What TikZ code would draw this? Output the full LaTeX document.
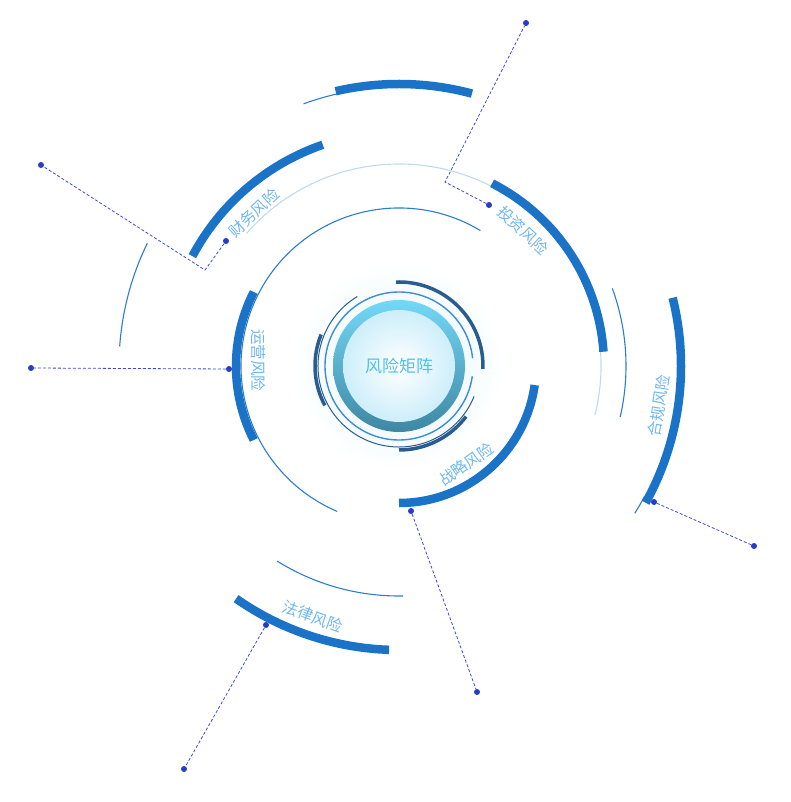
\documentclass[tikz,border=0pt]{standalone}
\usepackage{fontspec}
\newfontfamily\cjk{Noto Sans CJK SC}
\definecolor{arcblue}{RGB}{26,115,198}
\definecolor{thinblue}{RGB}{45,125,205}
\definecolor{paleblue}{RGB}{192,217,238}
\definecolor{leaderblue}{RGB}{60,75,215}
\definecolor{dotblue}{RGB}{40,60,200}
\definecolor{labelblue}{RGB}{110,182,240}
\definecolor{coreblue}{RGB}{78,193,238}
\definecolor{darkring}{RGB}{42,92,142}
\definecolor{ringtop}{RGB}{115,216,246}
\definecolor{ringbot}{RGB}{62,135,163}
\definecolor{glowcyan}{RGB}{222,244,252}
\definecolor{corerim}{RGB}{205,238,250}
\definecolor{midring}{RGB}{60,140,215}
\def\coreR{56}
\def\ringR{66}
\newcommand{\labfont}{\cjk\fontsize{15.5}{16}\selectfont}

\begin{document}
\begin{tikzpicture}[x=1pt,y=1pt,line cap=butt,
  thickarc/.style={arcblue,line width=8.5pt},
  thinarc/.style={thinblue,line width=1.1pt},
  palearc/.style={paleblue,line width=1.1pt},
  leader/.style={leaderblue,dash pattern=on 3pt off 2pt,line width=0.8pt},
  dotmark/.style={circle,fill=dotblue,inner sep=0pt,minimum size=6pt},
  risklabel/.style={font=\labfont,text=labelblue,inner sep=0pt}]
  \useasboundingbox (-399,-436) rectangle (391,366);
  % core: glow, ring, disk
  \shade[inner color=glowcyan,outer color=white] (0,0) circle[radius=105pt];
  \shade[top color=ringtop,bottom color=ringbot] (0,0) circle[radius=\ringR pt];
  \shade[inner color=white,outer color=corerim] (0,0) circle[radius=\coreR pt];
  \draw[midring,line width=1.4pt] (6:74pt) arc[start angle=6,end angle=352,radius=74pt];
  \draw[darkring,line width=1pt] (121:81pt) arc[start angle=121,end angle=338,radius=81pt];
  \foreach \a/\b in {-2/92, 158/208, -90/-37}
    \draw[darkring,line width=3.5pt] (\a:84pt) arc[start angle=\a,end angle=\b,radius=84pt];
  \node[font=\cjk\fontsize{17}{18}\selectfont,text=coreblue] (core) at (0,0) {风险矩阵};
  % thin and pale arcs
  \foreach \r/\a/\b in {158/59/247, 227/-13/20, 230/238/271, 280/154/176, 279/103/110, 278/-28/-32}
    \draw[thinarc] (\a:\r pt) arc[start angle=\a,end angle=\b,radius=\r pt];
  \draw[palearc] (-14:202pt) arc[start angle=-14,end angle=139,radius=202pt];
  % thick arcs
  \foreach \r/\a/\b in {137/-90/-8, 163/153/207, 234/109/152, 205/4/63, 282/-29/14, 284/235/268, 282/75/103}
    \draw[thickarc] (\a:\r pt) arc[start angle=\a,end angle=\b,radius=\r pt];
  % labels
  \foreach \ang/\rad/\rot/\txt [count=\n] in {-55.6/119/35/战略风险, 177.6/141/-90/运营风险, 133.5/211/43/财务风险, 47.6/184/-43/投资风险, -8.7/263/81/合规风险, 251/265/-20/法律风险}
    \node[risklabel,rotate=\rot] (lab\n) at (\ang:\rad pt) {\txt};
  % leader dots
  \node[dotmark] (fin) at (-173,125) {};
  \node[dotmark] (finend) at (-358,201) {};
  \coordinate (finbend) at (-194,96);
  \node[dotmark] (inv) at (90,161) {};
  \node[dotmark] (invend) at (127,343) {};
  \coordinate (invbend) at (46,184);
  \node[dotmark] (ops) at (-170,-3) {};
  \node[dotmark] (opsend) at (-368,-2) {};
  \node[dotmark] (str) at (12,-145) {};
  \node[dotmark] (strend) at (78,-326) {};
  \node[dotmark] (cmp) at (255,-136) {};
  \node[dotmark] (cmpend) at (355,-180) {};
  \node[dotmark] (law) at (-133,-259) {};
  \node[dotmark] (lawend) at (-215,-403) {};
  \draw[leader] (fin) -- (finbend) -- (finend);
  \draw[leader] (inv) -- (invbend) -- (invend);
  \draw[leader] (ops) -- (opsend);
  \draw[leader] (str) -- (strend);
  \draw[leader] (cmp) -- (cmpend);
  \draw[leader] (law) -- (lawend);
\end{tikzpicture}
\end{document}
